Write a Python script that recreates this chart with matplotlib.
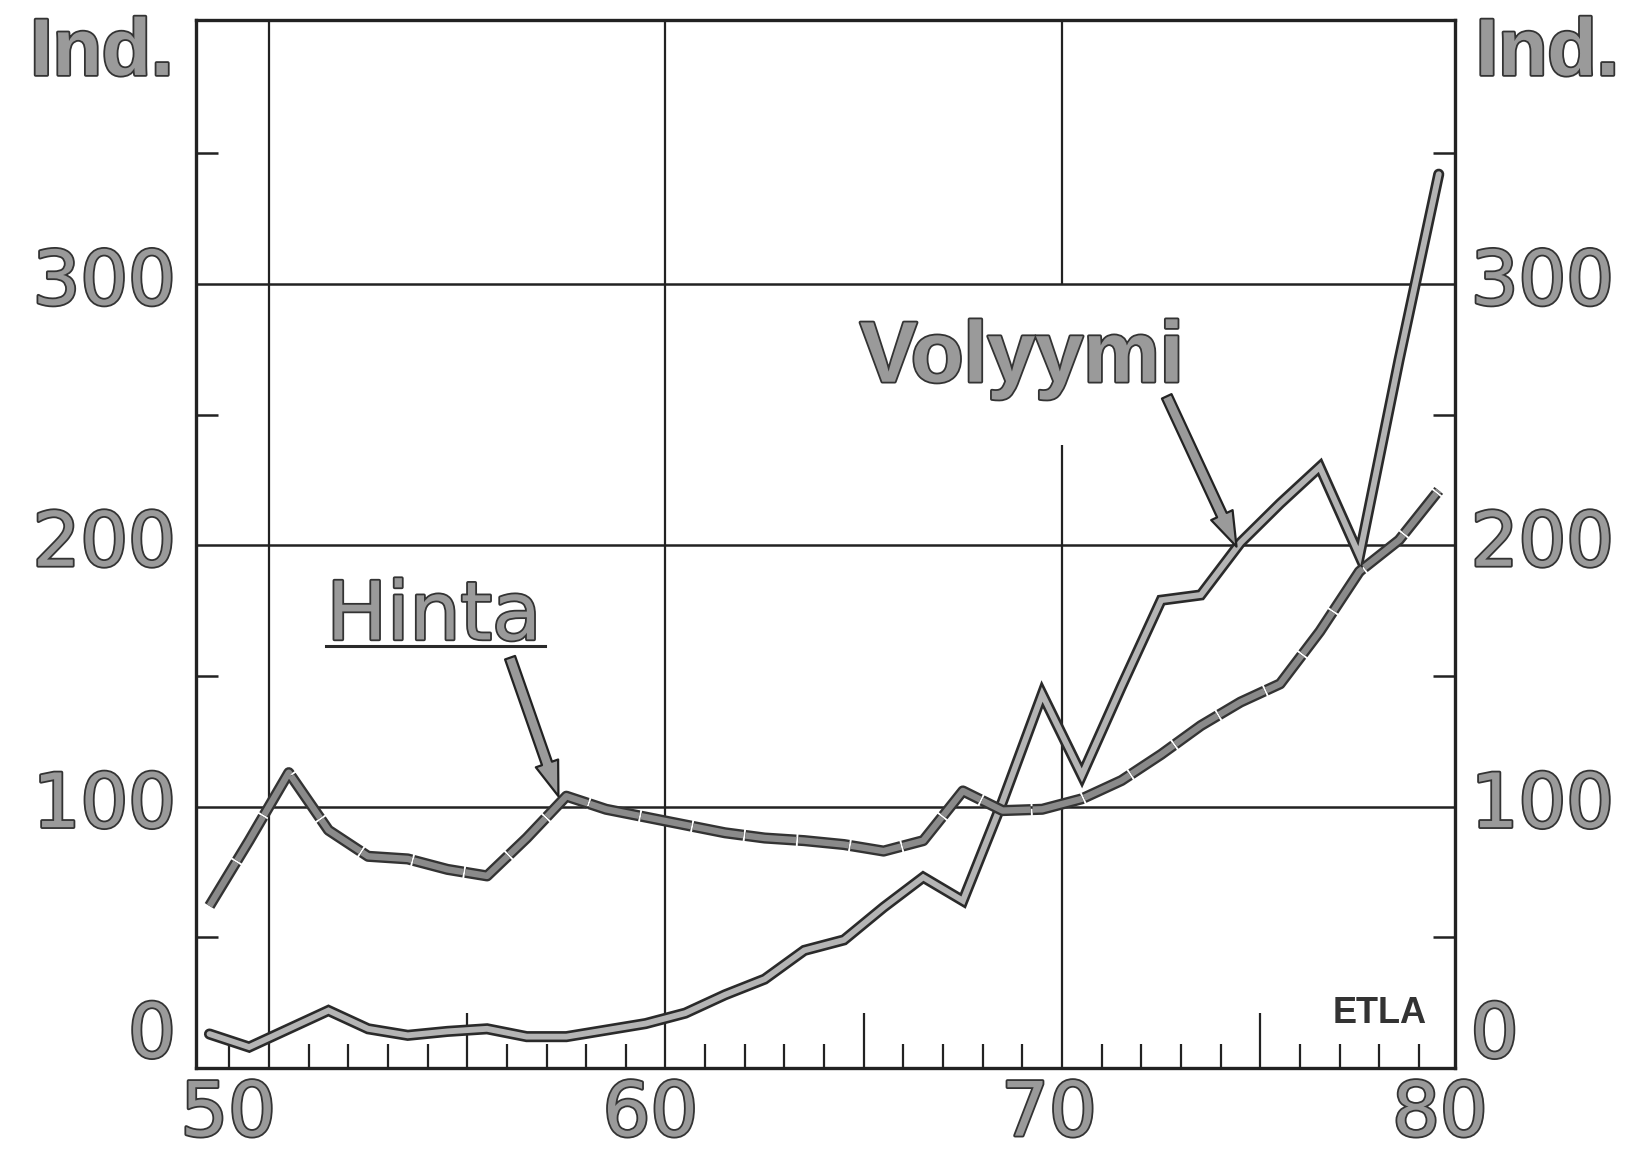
import matplotlib
matplotlib.use('Agg')
import matplotlib.pyplot as plt
import matplotlib.patheffects as pe
import numpy as np

# ---------------- data ----------------
years = list(range(1948, 1980))
hinta = [62, 87, 113, 91, 81, 80, 76, 73.5, 88, 104, 99, 96, 93, 90, 88, 87,
         85.5, 83, 87, 106, 98.5, 99, 103, 110, 120, 131, 140, 147, 167, 190, 202, 221]
volyymi = [13, 8, 15, 22, 15, 12.5, 14, 15, 12, 12, 14.5, 17, 21, 28, 34, 45,
           49, 61.5, 73, 64, 102, 143, 112, 146, 179, 181, 201, 216, 230, 196, 271, 342]
x_labels = ['50', '60', '70', '80']
x_label_vals = [50, 60, 70, 80]
y_labels = ['0', '100', '200', '300']
y_label_vals = [0, 100, 200, 300]
unit_label = 'Ind.'
series_names = ['Hinta', 'Volyymi']
source = 'ETLA'

# ---------------- figure ----------------
W, H, DPI = 1642, 1158, 100
fig = plt.figure(figsize=(W / DPI, H / DPI), dpi=DPI)
fig.patch.set_facecolor('white')
ax = fig.add_axes([196 / W, 1 - 1068 / H, (1455 - 196) / W, (1068 - 20) / H])
ax.set_xlim(48.16, 79.91)
ax.set_ylim(0, 401)

dark = '#222222'
for s in ax.spines.values():
    s.set_linewidth(2.4)
    s.set_color(dark)

# ticks
ax.set_xticks([])
ax.set_yticks([])
minor_years = [y for y in range(49, 80) if y % 10 != 0 and y % 5 != 0]
half_years = [55, 65, 75]
ax.set_xticks(minor_years, minor=True)
ax.tick_params(axis='x', which='minor', direction='in', length=17, width=1.6,
               color=dark, bottom=True, top=False, labelbottom=False)
ax.set_yticks([50, 150, 250, 350], minor=True)
ax.tick_params(axis='y', which='minor', direction='in', length=16, width=1.8,
               color=dark, left=True, right=True, labelleft=False)
for hy in half_years:
    ax.vlines(hy, 0, 21, color=dark, lw=1.6, zorder=2)

# grid
ax.vlines([50, 60], 0, 401, color=dark, lw=1.6, zorder=1)
ax.vlines(70, 0, 238.5, color=dark, lw=1.6, zorder=1)
ax.vlines(70, 300, 401, color=dark, lw=1.6, zorder=1)
ax.hlines([100, 200, 300], 48.16, 79.91, color=dark, lw=1.8, zorder=1)

# series
xpos = [y - 1900 + 0.5 for y in years]
ax.plot(xpos, volyymi, color='#b4b4b4', lw=4.2, solid_joinstyle='miter',
        solid_capstyle='round', zorder=4,
        path_effects=[pe.Stroke(linewidth=8.0, foreground='#2a2a2a'), pe.Normal()])
ax.plot(xpos, hinta, color='#8a8a8a', lw=4.6, dash_capstyle='butt',
        linestyle=(0, (8, 0.3)), zorder=4,
        path_effects=[pe.Stroke(linewidth=8.0, foreground='#333333'), pe.Normal()])

# text styling
txt_fx = [pe.Stroke(linewidth=2.6, foreground='#333333'), pe.Normal()]
num_kw = dict(fontsize=54, family='DejaVu Sans', color='#9a9a9a', path_effects=txt_fx)

# y labels (left and right)
ylab_pos = {0: 12, 100: 100, 200: 200, 300: 300}
for v, lab in zip(y_label_vals, y_labels):
    ax.text(-0.016, ylab_pos[v], lab, ha='right', va='center',
            transform=ax.get_yaxis_transform(), **num_kw)
    ax.text(1.0125, ylab_pos[v], lab, ha='left', va='center',
            transform=ax.get_yaxis_transform(), **num_kw)

# x labels
xlab_pos = {50: 48.97, 60: 59.62, 70: 69.67, 80: 79.53}
for v, lab in zip(x_label_vals, x_labels):
    ax.text(xlab_pos[v], -0.045, lab, ha='center', va='center',
            transform=ax.get_xaxis_transform(), clip_on=False, **num_kw)

# unit labels
ind_kw = dict(fontsize=58, family='Liberation Sans', weight='bold',
              color='#9a9a9a', path_effects=txt_fx)
ax.text(-0.018, 388, unit_label, ha='right', va='center',
        transform=ax.get_yaxis_transform(), **ind_kw)
ax.text(1.0165, 388, unit_label, ha='left', va='center',
        transform=ax.get_yaxis_transform(), **ind_kw)

# series labels
ax.text(64.9, 262.6, series_names[1], ha='left', va='baseline',
        fontsize=62, family='Liberation Sans', weight='bold',
        color='#9a9a9a', path_effects=txt_fx, zorder=6)
ax.text(51.45, 164, series_names[0], ha='left', va='baseline',
        fontsize=58, family='DejaVu Sans', color='#9a9a9a',
        path_effects=txt_fx, zorder=6)
ax.plot([51.45, 56.95], [161.3, 161.3], color='#2a2a2a', lw=2.2, zorder=6)

# arrows
arrow_kw = dict(arrowstyle='simple,head_length=1.25,head_width=0.85,tail_width=0.38',
                fc='#9a9a9a', ec='#222222', lw=1.6, mutation_scale=20,
                shrinkA=0, shrinkB=0)
ax.annotate('', xy=(57.3, 104), xytext=(56.08, 157), arrowprops=arrow_kw, zorder=6)
ax.annotate('', xy=(74.4, 199.5), xytext=(72.64, 257), arrowprops=arrow_kw, zorder=6)

# source
ax.text(79.2, 21, source, ha='right', va='center', fontsize=26,
        family='Liberation Sans', weight='bold', color='#333333', zorder=6)

fig.savefig('out.png', dpi=DPI)
